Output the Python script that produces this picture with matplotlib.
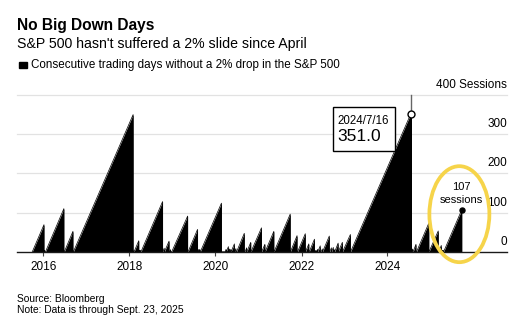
import matplotlib
matplotlib.use("Agg")
import matplotlib.pyplot as plt
import matplotlib.dates as mdates
from matplotlib.patches import Ellipse, Rectangle
from matplotlib.transforms import IdentityTransform, blended_transform_factory
import pandas as pd

plt.rcParams['font.family'] = ['Liberation Sans', 'DejaVu Sans']

# Each streak: first session after a 2% drop, last session before the next one,
# and the count of consecutive sessions reached on that last day.
streak_start = [
    "2015-09-29", "2016-01-08", "2016-01-19", "2016-06-27", "2016-09-12",
    "2018-02-06", "2018-02-09", "2018-03-26", "2018-04-03", "2018-04-09",
    "2018-10-11", "2018-10-25", "2018-12-10", "2018-12-26", "2019-05-14",
    "2019-08-06", "2019-08-15", "2019-08-26", "2020-03-24", "2020-04-02",
    "2020-04-22", "2020-05-04", "2020-05-13", "2020-06-12", "2020-06-29",
    "2020-09-09", "2020-09-24", "2020-10-29", "2021-01-28", "2021-02-26",
    "2021-05-13", "2021-09-29", "2021-11-29", "2022-02-04", "2022-03-08",
    "2022-04-27", "2022-05-02", "2022-05-10", "2022-05-19", "2022-06-17",
    "2022-06-29", "2022-08-29", "2022-09-14", "2022-09-30", "2022-10-10",
    "2022-11-10", "2022-12-16", "2023-02-22", "2024-07-25", "2024-08-06",
    "2024-09-04", "2024-12-19", "2025-03-11", "2025-04-07", "2025-04-11",
    "2025-04-22",
]
streak_end = [
    "2016-01-06", "2016-01-12", "2016-06-23", "2016-09-08", "2018-02-01",
    "2018-02-07", "2018-03-21", "2018-03-29", "2018-04-05", "2018-10-09",
    "2018-10-23", "2018-12-03", "2018-12-14", "2019-05-10", "2019-08-02",
    "2019-08-13", "2019-08-22", "2020-02-21", "2020-03-31", "2020-04-20",
    "2020-04-30", "2020-05-11", "2020-06-10", "2020-06-23", "2020-09-02",
    "2020-09-22", "2020-10-27", "2021-01-26", "2021-02-24", "2021-05-11",
    "2021-09-27", "2021-11-24", "2022-02-02", "2022-03-04", "2022-04-21",
    "2022-04-28", "2022-05-04", "2022-05-17", "2022-06-09", "2022-06-27",
    "2022-08-25", "2022-09-12", "2022-09-28", "2022-10-06", "2022-11-08",
    "2022-12-14", "2023-02-20", "2024-07-23", "2024-08-02", "2024-08-30",
    "2024-12-17", "2025-03-07", "2025-04-02", "2025-04-09", "2025-04-17",
    "2025-09-23",
]
streak_peak = [
    69, 3, 110, 52, 350,
    2, 28, 4, 3, 128,
    9, 27, 5, 91, 57,
    6, 6, 124, 6, 13,
    7, 6, 20, 8, 47,
    10, 24, 61, 19, 52,
    96, 41, 46, 20, 32,
    2, 3, 6, 15, 7,
    40, 10, 11, 5, 22,
    24, 44, 356, 7, 19,
    73, 53, 16, 3, 4,
    107,
]

highlight_date = "2024-07-16"
highlight_value = 351.0
latest_date = "2025-09-23"
latest_value = 107

y_ticks = [0, 100, 200, 300, 400]
y_tick_labels = ["0", "100", "200", "300", "400 Sessions"]
x_tick_years = [2016, 2018, 2020, 2022, 2024]

W, H = 525, 325
fig = plt.figure(figsize=(W / 100, H / 100), dpi=100)
fig.patch.set_facecolor("white")
ax = fig.add_axes([17 / W, 1 - 251.7 / H, 490 / W, 156.7 / H])

# sawtooth area
xs, ys = [], []
for s, e, p in zip(streak_start, streak_end, streak_peak):
    xs += [pd.Timestamp(s), pd.Timestamp(e), pd.Timestamp(e)]
    ys += [0, p, 0]
ax.fill_between(xs, ys, 0, color="black", linewidth=0, zorder=3)
ax.plot(xs, ys, color="black", lw=0.5, zorder=3)

ax.set_xlim(pd.Timestamp("2015-05-22"), pd.Timestamp("2026-10-12"))
ax.set_ylim(0, 400)

for v in y_ticks[1:]:
    ax.axhline(v, color="#e2e2e2", lw=0.9, zorder=1, clip_on=False)
ax.axhline(0, color="#1a1a1a", lw=1.0, zorder=4, clip_on=False)

for sp in ax.spines.values():
    sp.set_visible(False)
ax.set_yticks([])
ax.set_xticks([pd.Timestamp(f"{y}-01-01") for y in x_tick_years])
ax.set_xticklabels([str(y) for y in x_tick_years])
ax.tick_params(axis="x", length=3, width=0.8, color="#444444",
               labelsize=8.5, pad=4, labelcolor="black")

ytrans = blended_transform_factory(ax.transAxes, ax.transData)
for v, lab in zip(y_ticks, y_tick_labels):
    ax.annotate(lab, xy=(1.0, v), xycoords=ytrans, xytext=(0, 5),
                textcoords="offset points", ha="right", va="baseline",
                fontsize=8.5, color="black", annotation_clip=False)

# highlighted peak
hd = pd.Timestamp(highlight_date)
ax.plot([hd, hd], [highlight_value, 400], color="#666666", lw=1,
        zorder=5, clip_on=False)
ax.plot(hd, highlight_value, "o", ms=5, mfc="white", mec="black",
        mew=1, zorder=6, clip_on=False)

hx, hy = ax.transData.transform((mdates.date2num(hd), highlight_value))
box = Rectangle((hx - 77.3, hy - 36.7), 61.6, 43.4, transform=IdentityTransform(),
                facecolor="white", edgecolor="black", lw=1, zorder=7,
                clip_on=False)
ax.add_artist(box)
ax.annotate(hd.strftime("%Y/") + f"{hd.month}/{hd.day}", xy=(hd, highlight_value),
            xytext=(-52.8, -6.7), textcoords="offset points", ha="left",
            va="baseline", fontsize=8.3, zorder=8)
ax.annotate(f"{highlight_value:.1f}", xy=(hd, highlight_value),
            xytext=(-52.8, -19.2), textcoords="offset points", ha="left",
            va="baseline", fontsize=12.5, zorder=8)

# latest reading
ld = pd.Timestamp(latest_date)
ax.plot(ld, latest_value, "o", ms=3.6, color="black", zorder=6)
ax.annotate(str(latest_value), xy=(ld, latest_value), xytext=(0, 13.9),
            textcoords="offset points", ha="center", va="baseline",
            fontsize=8, zorder=8)
ax.annotate("sessions", xy=(ld, latest_value), xytext=(0, 4.8),
            textcoords="offset points", ha="center", va="baseline",
            fontsize=8, zorder=8)

lx, ly = ax.transData.transform((mdates.date2num(ld), latest_value))
ring = Ellipse((lx - 2.4, ly - 4.4), 60, 96, transform=IdentityTransform(),
               fill=False, edgecolor="#F6D44A", lw=2.7, zorder=9)
fig.add_artist(ring)

# header
fig.text(17 / W, 1 - 30 / H, "No Big Down Days", fontsize=11.2,
         fontweight="bold", va="baseline", ha="left")
fig.text(17 / W, 1 - 47.7 / H, "S&P 500 hasn't suffered a 2% slide since April",
         fontsize=10.2, va="baseline", ha="left")
fig.add_artist(Rectangle((19 / W, 1 - 68.3 / H), 7.5 / W, 6.8 / H,
                         transform=fig.transFigure, color="black"))
fig.text(31 / W, 1 - 68.3 / H,
         "Consecutive trading days without a 2% drop in the S&P 500",
         fontsize=8.4, va="baseline", ha="left")

# footer
fig.text(17 / W, 1 - 301.7 / H, "Source: Bloomberg", fontsize=7.4,
         va="baseline", ha="left")
fig.text(17 / W, 1 - 313.3 / H, "Note: Data is through Sept. 23, 2025",
         fontsize=7.4, va="baseline", ha="left")

fig.savefig("out.png", dpi=100, facecolor="white")
